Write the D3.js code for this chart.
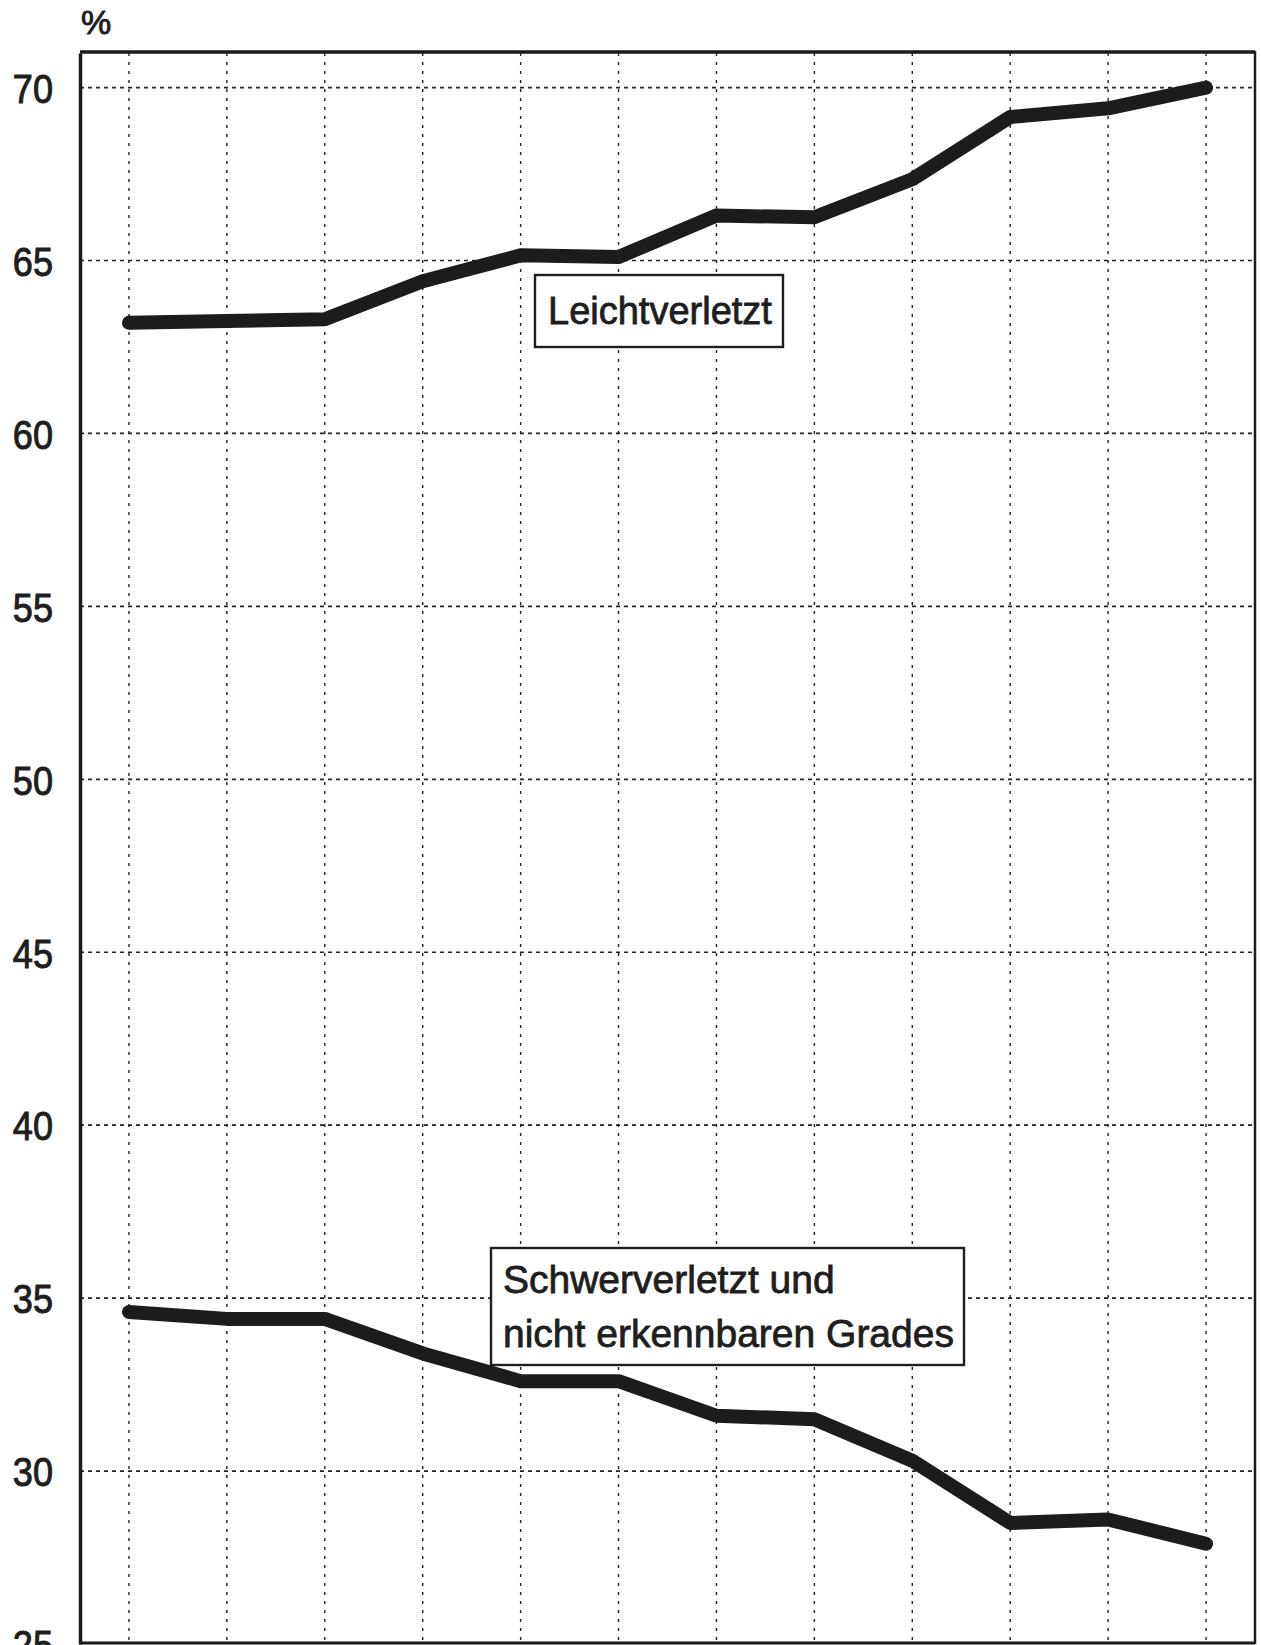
<!DOCTYPE html>
<html>
<head>
<meta charset="utf-8">
<script src="https://cdn.jsdelivr.net/npm/d3@7"></script>
<style>
  html, body { margin: 0; padding: 0; background: #fff; }
  svg { display: block; }
  text { font-family: "Liberation Sans", Arial, Helvetica, sans-serif; fill: #1e1e1e; }
</style>
</head>
<body>
<svg id="chart" width="1261" height="1645"></svg>
<script>
// ---- data ----
const categories = ["1","2","3","4","5","6","7","8","9","10","11","12"];
const leichtValues = [63.2, 63.25, 63.3, 64.4, 65.15, 65.1, 66.3, 66.25, 67.35, 69.15, 69.4, 70.0];
const schwerValues = [34.6, 34.4, 34.4, 33.4, 32.6, 32.6, 31.6, 31.5, 30.3, 28.5, 28.6, 27.9];
const yTicks = [25, 30, 35, 40, 45, 50, 55, 60, 65, 70];
const unitLabel = "%";
const leichtLabel = ["Leichtverletzt"];
const schwerLabel = ["Schwerverletzt und", "nicht erkennbaren Grades"];

// ---- layout ----
const L = 80, R = 1255, T = 53, B = 1644;
const svg = d3.select("#chart");

const x = d3.scalePoint().domain(categories).range([L, R]).padding(0.5);
const y = d3.scaleLinear().domain([25, 71]).range([B, T]);

// gridlines
const grid = svg.append("g").attr("stroke", "#222").attr("fill", "none");
grid.selectAll("line.h").data(yTicks.filter(v => v > 25)).join("line")
  .attr("class", "h")
  .attr("x1", L).attr("x2", R)
  .attr("y1", d => y(d)).attr("y2", d => y(d))
  .attr("stroke-width", 1.7)
  .attr("stroke-dasharray", "4,4");
grid.selectAll("line.v").data(categories).join("line")
  .attr("class", "v")
  .attr("x1", d => x(d)).attr("x2", d => x(d))
  .attr("y1", T).attr("y2", B)
  .attr("stroke-width", 1.4)
  .attr("stroke-dasharray", "3,6");

// frame
svg.append("line").attr("x1", L).attr("x2", R).attr("y1", T - 1).attr("y2", T - 1)
  .attr("stroke", "#1a1a1a").attr("stroke-width", 3.5);
svg.append("line").attr("x1", R).attr("x2", R).attr("y1", T - 2).attr("y2", B)
  .attr("stroke", "#1a1a1a").attr("stroke-width", 2.5);
svg.append("line").attr("x1", L).attr("x2", R).attr("y1", B - 1).attr("y2", B - 1)
  .attr("stroke", "#1a1a1a").attr("stroke-width", 3);

// y axis
const yAxis = d3.axisLeft(y).tickValues(yTicks).tickSize(0).tickPadding(0);
const ag = svg.append("g").attr("transform", `translate(${L},0)`).call(yAxis);
ag.select(".domain").attr("stroke", "#1a1a1a").attr("stroke-width", 3.5);
ag.selectAll(".tick text")
  .attr("x", 0).attr("dy", "0.36em")
  .attr("text-anchor", "end")
  .style("font-family", '"Liberation Sans", Arial, sans-serif')
  .style("font-size", "41px")
  .attr("fill", "#1e1e1e")
  .attr("stroke", "#1e1e1e").attr("stroke-width", 1.0)
  .attr("transform", "translate(-27,0) scale(0.88,1)");

// unit label
svg.append("text").attr("x", 81).attr("y", 34)
  .style("font-size", "34px").attr("stroke", "#1e1e1e").attr("stroke-width", 0.9)
  .text(unitLabel);

// lines
const line = d3.line().x((d, i) => x(categories[i])).y(d => y(d));
[leichtValues, schwerValues].forEach(vals => {
  svg.append("path").datum(vals)
    .attr("d", line)
    .attr("fill", "none")
    .attr("stroke", "#1c1c1c")
    .attr("stroke-width", 14)
    .attr("stroke-linejoin", "round")
    .attr("stroke-linecap", "round");
});

// label boxes
function labelBox(x0, y0, w, h, lines, tx, ty, lh, fs) {
  const g = svg.append("g");
  g.append("rect").attr("x", x0).attr("y", y0).attr("width", w).attr("height", h)
    .attr("fill", "#fff").attr("stroke", "#1e1e1e").attr("stroke-width", 2.4);
  lines.forEach((t, i) => {
    g.append("text").attr("x", tx).attr("y", ty + i * lh)
      .style("font-size", fs + "px")
      .attr("stroke", "#1e1e1e").attr("stroke-width", 0.8)
      .text(t);
  });
}
labelBox(535, 275, 248, 72, leichtLabel, 548, 324, 0, 38);
labelBox(491, 1248, 473, 117, schwerLabel, 503, 1293, 54, 39);
</script>
</body>
</html>
